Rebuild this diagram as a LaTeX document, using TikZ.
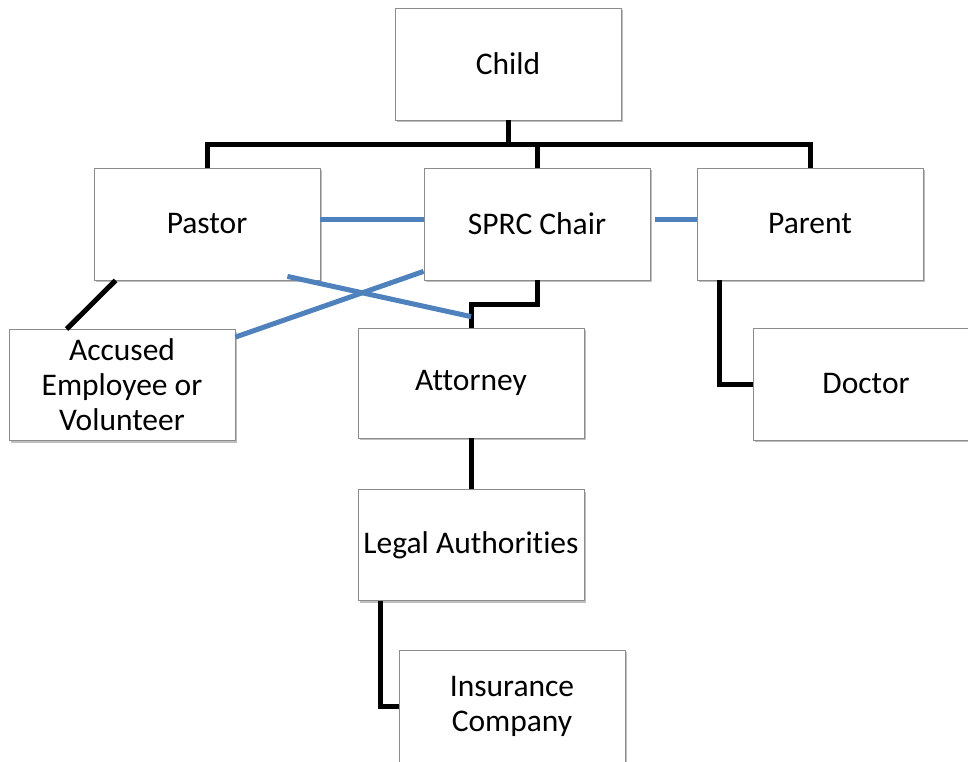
\documentclass[tikz,border=0pt]{standalone}
\usepackage{fontspec}
\setmainfont{Carlito}[Ligatures=NoCommon]
\usetikzlibrary{shadows}
\definecolor{boxline}{RGB}{140,140,140}
\definecolor{blueline}{RGB}{79,129,189}
\tikzset{
  box/.style={draw=boxline, line width=0.8pt, fill=white, minimum width=226pt, minimum height=112pt,
    align=center, inner sep=2pt, font=\fontsize{31.5}{35}\selectfont,
    drop shadow={shadow xshift=2pt, shadow yshift=-2pt, fill=black, opacity=0.25}},
  bk/.style={draw=black, line width=5pt},
  bl/.style={draw=blueline, line width=5pt}
}
\begin{document}
\begin{tikzpicture}[x=1pt,y=-1pt]
\useasboundingbox (0,0) rectangle (968,762);
\clip (0,0) rectangle (968,762);
\fill[white] (0,0) rectangle (968,762);
\node[box] (child) at (508,64) {Child};
\node[box] (pastor) at (207,224) {Pastor};
\node[box] (sprc) at (537,224) {SPRC Chair};
\node[box] (parent) at (810,224) {Parent};
\node[box, minimum height=111pt] (accused) at (122,385) {Accused\\Employee or\\Volunteer};
\node[box, minimum height=110pt] (attorney) at (471,383) {Attorney};
\node[box] (doctor) at (866,384) {Doctor};
\node[box, minimum height=111pt] (legal) at (471,545) {Legal Authorities};
\node[box] (insurance) at (512,706) {Insurance\\Company};
\coordinate (bus) at (508,145);
% black connectors
\draw[bk] (child.south) -- (bus);
\draw[bk] (pastor.north) |- (bus) -| (parent.north);
\draw[bk] (sprc.north) -- (sprc.north |- bus);
\draw[bk] ([xshift=22pt]pastor.south west) -- ([xshift=58pt]accused.north west);
\draw[bk] (sprc.south) -- ++(0,24) -| (attorney.north);
\draw[bk] (attorney.south) -- (legal.north);
\draw[bk] ([xshift=23pt]legal.south west) |- (insurance.west);
\draw[bk] ([xshift=23pt]parent.south west) |- (doctor.west);
% blue connectors
\draw[bl] ([yshift=5pt]pastor.east) -- ([yshift=5pt]sprc.west);
\draw[bl] ([xshift=5pt,yshift=5pt]sprc.east) -- ([yshift=5pt]parent.west);
\draw[bl] ([xshift=-33pt,yshift=4pt]pastor.south east) -- ([yshift=11pt]attorney.north);
\draw[bl] ([yshift=9pt]sprc.south west) -- ([yshift=-8pt]accused.north east);
\end{tikzpicture}
\end{document}
